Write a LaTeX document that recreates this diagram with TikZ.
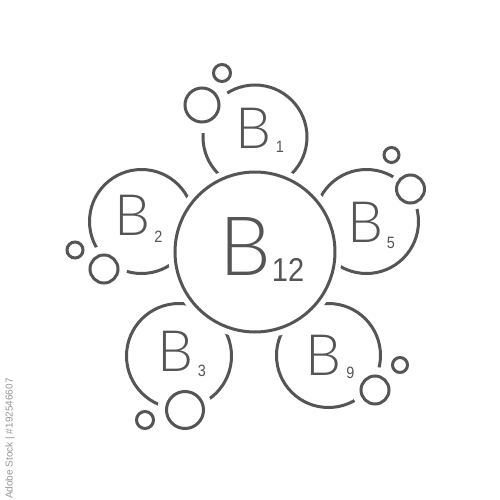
\documentclass[tikz,border=0pt]{standalone}
\usepackage{fontspec}
\setmainfont{Lato}[UprightFont=* Light]
\newfontfamily\creditfont{Liberation Sans}
\newfontfamily\digitfont{Liberation Sans}[FakeStretch=0.88]
\definecolor{ink}{RGB}{85,85,85}
\definecolor{wm}{RGB}{150,150,150}
\begin{document}
\begin{tikzpicture}[x=0.5pt,y=0.5pt,
  ring/.style={draw=ink,line width=1.5pt},
  knock/.style={fill=white},
  bigB/.style={inner sep=0pt,text=ink,font=\fontsize{28.5}{28.5}\selectfont},
  subB/.style={inner sep=0pt,text=ink,font=\digitfont\fontsize{8.2}{8.2}\selectfont},
  hugeB/.style={inner sep=0pt,text=ink,font=\fontsize{41}{41}\selectfont},
  hugesub/.style={inner sep=0pt,text=ink,font=\digitfont\fontsize{16.5}{16.5}\selectfont}]
\useasboundingbox (0,0) rectangle (500,500);
\fill[white] (0,0) rectangle (500,500);
% centres
\coordinate (c0) at (255,248);
\coordinate (c1) at (255,363);
\coordinate (c2) at (141.5,278.5);
\coordinate (c5) at (366.5,278.5);
\coordinate (c3) at (179,144);
\coordinate (c9) at (328.5,144.5);
\coordinate (b1) at (202,395);
\coordinate (b1s) at (222,427);
\coordinate (b2) at (104,231);
\coordinate (b2s) at (75,250);
\coordinate (b5) at (410.5,311);
\coordinate (b5s) at (391.5,345);
\coordinate (b3) at (185,90);
\coordinate (b3s) at (145,80);
\coordinate (b9) at (375,110);
\coordinate (b9s) at (400,135);
% rings
\draw[ring] (c1) circle[radius=52];
\draw[ring] (c2) circle[radius=52];
\draw[ring] (c5) circle[radius=52];
\draw[ring] (c3) circle[radius=52.5];
\draw[ring] (c9) circle[radius=52];
% bubbles with knockouts
\fill[knock] (b1) circle[radius=28];
\fill[knock] (b2) circle[radius=23];
\fill[knock] (b5) circle[radius=21];
\fill[knock] (b3) circle[radius=27.5];
\fill[knock] (b9) circle[radius=23];
\draw[ring] (b1) circle[radius=17];
\draw[ring] (b1s) circle[radius=8.5];
\draw[ring] (b2) circle[radius=14];
\draw[ring] (b2s) circle[radius=8];
\draw[ring] (b5) circle[radius=14];
\draw[ring] (b5s) circle[radius=7.5];
\draw[ring] (b3) circle[radius=18.5];
\draw[ring] (b3s) circle[radius=8.5];
\draw[ring] (b9) circle[radius=14];
\draw[ring] (b9s) circle[radius=7.5];
% central
\fill[knock] (c0) circle[radius=87];
\draw[ring] (c0) circle[radius=80];
% labels
\node[hugeB] (t12) at (245,253.5) {B};
\node[hugesub,anchor=west] (s12) at (271.5,230.5) {12};
\node[bigB] (t1) at (254,372) {B};
\node[subB] (s1) at (280,353) {1};
\node[bigB] (t2) at (132.5,285) {B};
\node[subB] (s2) at (158.5,263.5) {2};
\node[bigB] (t5) at (366,277.5) {B};
\node[subB] (s5) at (391,257.5) {5};
\node[bigB] (t3) at (176,149) {B};
\node[subB] (s3) at (202,129.5) {3};
\node[bigB] (t9) at (324,144.5) {B};
\node[subB] (s9) at (350.5,127.5) {9};
% side credit
\begin{scope}
\clip (0,0) rectangle (500,500);
\node[inner sep=0pt,text=wm,font=\creditfont\fontsize{5}{5}\selectfont,rotate=90,anchor=east] (credit) at (10,122) {Adobe Stock | \#192546607};
\end{scope}
\end{tikzpicture}
\end{document}
